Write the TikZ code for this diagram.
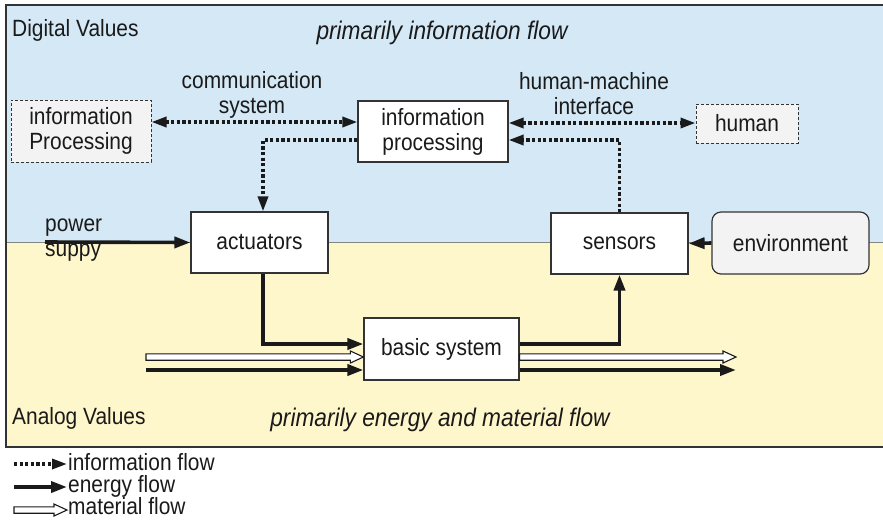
\documentclass[tikz,border=0pt]{standalone}
\usepackage{fontspec}
\setmainfont[FakeStretch=0.89]{Liberation Sans}
\usetikzlibrary{arrows.meta,calc}

\definecolor{digitalbg}{HTML}{D4E8F6}
\definecolor{analogbg}{HTML}{FFF7CC}
\definecolor{boxline}{HTML}{333333}
\definecolor{textcol}{HTML}{1A1A1A}
\definecolor{softgray}{HTML}{F3F3F3}

% material flow: white hollow arrow drawn as one closed outline
\newcommand\matflow[2]{%
  \draw[line width=1.1pt, draw=textcol, fill=white]
    let \p1=(#1), \p2=(#2) in
    (\x1,\y1+3.2pt) -- (\x2-13pt,\y2+3.2pt) -- (\x2-13pt,\y2+6pt) -- (\x2,\y2)
    -- (\x2-13pt,\y2-6pt) -- (\x2-13pt,\y2-3.2pt) -- (\x1,\y1-3.2pt) -- cycle;}

\tikzset{
  ihead/.tip={Triangle[length=15pt,width=10pt]},
  ehead/.tip={Triangle[length=16pt,width=11pt]},
  lbl/.style={font=\fontsize{23.5}{25}\selectfont, text=textcol, inner sep=0pt, align=center},
  legendtext/.style={lbl, anchor=base west, text height=14pt, text depth=4pt},
  headline/.style={font=\fontsize{25.5}{27}\selectfont\itshape, text=textcol, inner sep=0pt},
  block/.style={lbl, draw=boxline, line width=1.2pt, fill=white},
  extblock/.style={lbl, draw=boxline, line width=1pt, fill=softgray, dash pattern=on 3pt off 2pt},
  envblock/.style={lbl, draw=boxline, line width=1.2pt, fill=softgray, rounded corners=9pt},
  infoflow/.style={draw=textcol, line width=3.3pt, dash pattern=on 3.2pt off 2.4pt},
  energyflow/.style={draw=textcol, line width=3.6pt, -ehead},
}

\begin{document}
\begin{tikzpicture}[x=1pt, y=-1pt]
\useasboundingbox (0,0) rectangle (883,523);

% the two value domains
\fill[digitalbg] (6,5) rectangle (884,242);
\fill[analogbg] (6,242) rectangle (884,447);
\draw[boxline!60, line width=0.6pt] (6,242) -- (884,242);
\draw[boxline, line width=1.4pt] (884,5) -- (6,5) -- (6,447) -- (884,447);

% domain captions
\node[lbl, anchor=west] (dig) at (12,30) {Digital Values};
\node[headline] (hinfo) at (442,33) {primarily information flow};
\node[lbl, anchor=west] (ana) at (12,418) {Analog Values};
\node[headline] (hen) at (440,420) {primarily energy and material flow};

% blocks
\node[extblock, minimum width=140pt, minimum height=62pt] (infoP) at (81,131) {information\\Processing};
\node[block, minimum width=150pt, minimum height=61pt] (iproc) at (433,131.5) {information\\processing};
\node[extblock, minimum width=102pt, minimum height=39pt] (human) at (747,123.5) {human};
\node[block, minimum width=137pt, minimum height=61pt] (act) at (259.5,242.5) {actuators};
\node[block, minimum width=137pt, minimum height=61pt] (sens) at (619.5,243.5) {sensors};
\node[envblock, minimum width=157pt, minimum height=62pt] (env) at (790.5,243) {environment};
\node[block, minimum width=155pt, minimum height=62pt] (basic) at (441.5,349) {basic system};

% connector labels
\node[lbl] (comm) at (252,94.5) {communication\\system};
\node[lbl] (hmi) at (594,94) {human-machine\\interface};
\node[lbl, anchor=west] (pw1) at (45,228) {power};
\node[lbl, anchor=west] (pw2) at (45,253) {suppy};

% information flow
\draw[infoflow, ihead-ihead] ([yshift=9pt]infoP.east) coordinate (c1) -- (c1 -| iproc.west);
\draw[infoflow, ihead-ihead] ([yshift=8.5pt]iproc.east) coordinate (c2) -- (c2 -| human.west);
\draw[infoflow, -ihead] ([yshift=-8.5pt]iproc.west) -| ([xshift=3.5pt]act.north);
\draw[infoflow, -ihead] (sens.north) |- ([yshift=-8.5pt]iproc.east);

% energy flow
\coordinate (ps) at (45,242);
\draw[energyflow] (ps) -- (act.west);
\draw[energyflow] (env.west) -- (sens.east);
\draw[energyflow] ([xshift=3.5pt]act.south) |- ([yshift=5pt]basic.west);
\draw[energyflow] ([yshift=5pt]basic.east) -| (sens.south);
\coordinate (ein) at (146,370);
\coordinate (eout) at (736,370);
\draw[energyflow] (ein) -- (ein -| basic.west);
\draw[energyflow] (eout -| basic.east) -- (eout);

% material flow
\coordinate (min) at (146,357);
\coordinate (mout) at (736,357);
\coordinate (minE) at (min -| basic.west);
\coordinate (moutS) at (mout -| basic.east);
\matflow{min}{minE}
\matflow{moutS}{mout}

% legend
\coordinate (li1) at (14,464);
\coordinate (li2) at (67,464);
\coordinate (le1) at (14,487);
\coordinate (le2) at (67,487);
\coordinate (lm1) at (14,510);
\coordinate (lm2) at (67,510);
\draw[infoflow, -ihead] (li1) -- (li2);
\draw[energyflow] (le1) -- (le2);
\matflow{lm1}{lm2}
\node[legendtext] (lgi) at (68,470) {information flow};
\node[legendtext] (lge) at (68,492) {energy flow};
\node[legendtext] (lgm) at (68,514) {material flow};
\end{tikzpicture}
\end{document}
